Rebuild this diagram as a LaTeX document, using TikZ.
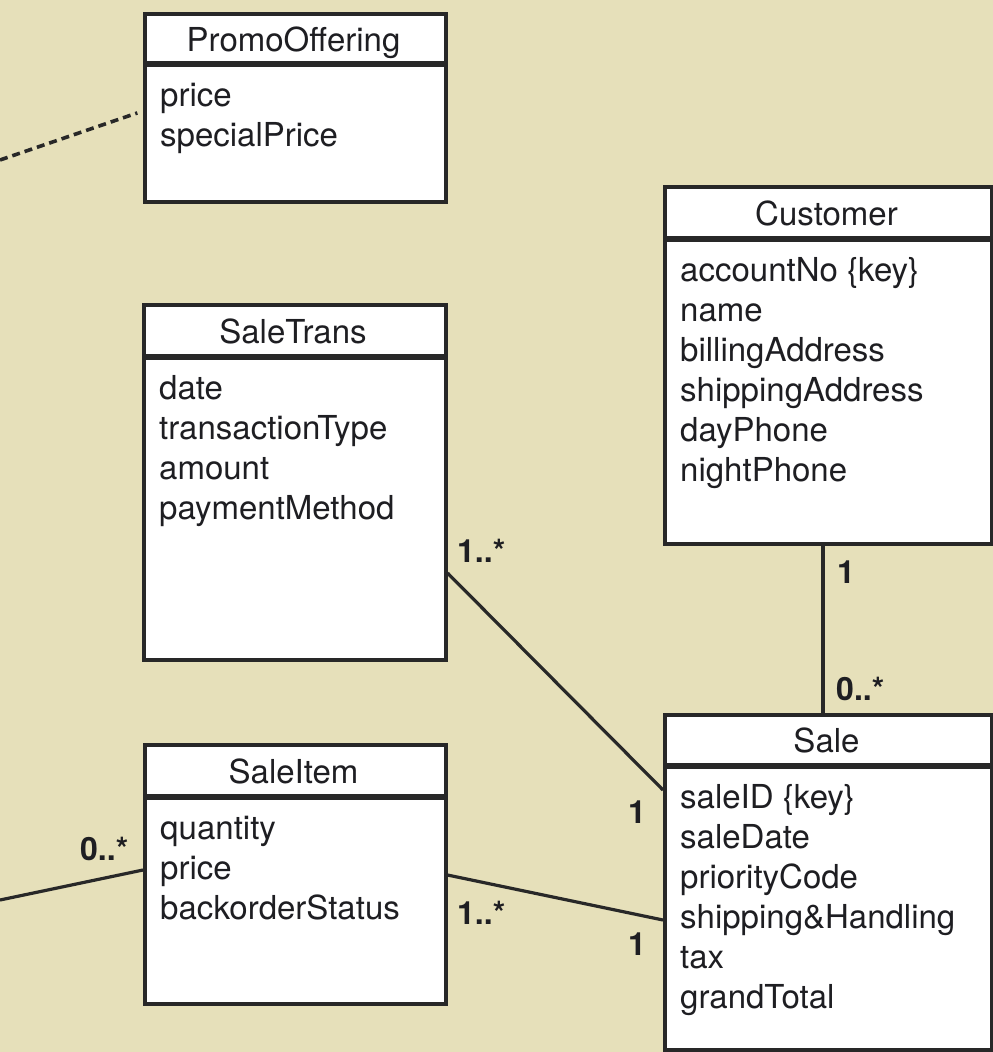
\documentclass[tikz,border=0pt]{standalone}
\usepackage{fontspec}
\setmainfont{TeX Gyre Heros}
\definecolor{paper}{RGB}{230,224,186}
\definecolor{ink}{RGB}{40,40,40}
\definecolor{textink}{RGB}{30,30,34}
\tikzset{
  classbox/.style={draw=ink, line width=3.5pt, fill=white, inner sep=0pt, anchor=north west},
  divider/.style={draw=ink, line width=5.5pt},
  classtitle/.style={font=\fontsize{33}{40}\selectfont, text=textink, inner sep=0pt, anchor=base},
  attr/.style={font=\fontsize{33}{40}\selectfont, text=textink, inner sep=0pt, anchor=base west},
  assoc/.style={draw=ink, line width=3.2pt},
  mult/.style={font=\bfseries\fontsize{32}{38}\selectfont, text=textink, inner sep=0pt, anchor=base west},
}
% #1 name, #2 left, #3 top, #4 right, #5 bottom, #6 divider, #7 title, #8 attributes
\newcommand\umlclass[8]{%
  \node[classbox, minimum width={(#4-#2)*1pt}, minimum height={(#5-#3)*1pt}] (#1) at (#2,#3) {};
  \draw[divider] (#1.west |- 0,#6) -- (#1.east |- 0,#6);
  \node[classtitle] (#1-title) at ({(#2+#4)/2},{(#3+#6)/2+13}) {#7};
  \foreach \a [count=\i] in {#8} {
    \node[attr] (#1-a\i) at ({#2+17},{#6+42+40*(\i-1)}) {\a};
  }
}
\begin{document}
\begin{tikzpicture}[x=1pt, y=-1pt]
  \fill[paper] (0,0) rectangle (993,1052);
  \useasboundingbox (0,0) rectangle (993,1052);

  \umlclass{promo}{143}{12}{444}{200}{64}{PromoOffering}{price, specialPrice}
  \umlclass{customer}{663}{185}{990}{542}{239}{Customer}%
    {accountNo \{key\}, name, billingAddress, shippingAddress, dayPhone, nightPhone}
  \umlclass{saletrans}{142}{303}{444}{658}{357}{SaleTrans}%
    {date, transactionType, amount, paymentMethod}
  \umlclass{saleitem}{143}{743}{444}{1002}{797}{SaleItem}%
    {quantity, price, backorderStatus}
  \umlclass{sale}{663}{713}{990}{1048}{766}{Sale}%
    {saleID \{key\}, saleDate, priorityCode, shipping\&Handling, tax, grandTotal}

  % associations leaving the drawing on the left
  \coordinate (promoLink) at (0,160);
  \coordinate (itemLink) at (0,900);

  \draw[assoc, line width=3.6pt, dash pattern=on 8pt off 5pt, shorten >=6pt] (promoLink) -- (promo.west |- 0,111);
  \draw[assoc] (itemLink) -- (saleitem.west |- 0,870);
  \draw[assoc] (saletrans.east |- 0,573) -- (sale.west |- 0,790);
  \draw[assoc] (saleitem.east |- 0,875) -- (sale.west |- 0,920);
  \draw[assoc] (customer.south -| 823,0) -- (sale.north -| 823,0);

  % multiplicities
  \node[mult] (m-trans) at (457,562) {1..*};
  \node[mult] (m-cust) at (837,583) {1};
  \node[mult] (m-salec) at (836,700) {0..*};
  \node[mult] (m-salet) at (628,823) {1};
  \node[mult] (m-item) at (457,924) {1..*};
  \node[mult] (m-salei) at (628,955) {1};
  \node[mult] (m-left) at (80,860) {0..*};
\end{tikzpicture}
\end{document}
